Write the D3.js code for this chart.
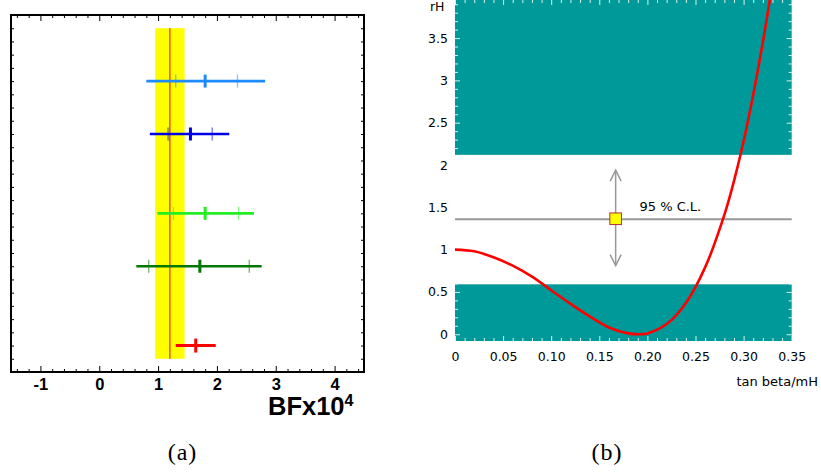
<!DOCTYPE html>
<html><head><meta charset="utf-8">
<script src="https://cdn.jsdelivr.net/npm/d3@7"></script>
<style>body{margin:0;background:#fff}svg{display:block}</style>
</head><body>
<svg id="c" width="821" height="475"></svg>
<script>
// ---------- Panel (a) data ----------
const rows      = [22, 18, 12, 8, 2];
const colorsA   = ["#1e8cff", "#0000e6", "#22ee22", "#007700", "#ff0000"];
const centralA  = [1.80, 1.55, 1.80, 1.71, 1.64];
const statLo    = [1.30, 1.17, 1.26, 0.84, null];
const statHi    = [2.35, 1.92, 2.37, 2.55, null];
const totLo     = [0.80, 0.86, 0.99, 0.63, 1.30];
const totHi     = [2.82, 2.21, 2.63, 2.76, 1.98];
const avgValue  = 1.20;
const avgBand   = [0.95, 1.45];
const avgRows   = [1, 26];
const ticksA    = [-1, 0, 1, 2, 3, 4];

// ---------- Panel (b) data ----------
const tanBeta = [0, 0.02, 0.04, 0.06, 0.08, 0.10, 0.12, 0.14, 0.16, 0.18, 0.19, 0.20, 0.22, 0.24, 0.26, 0.28, 0.29, 0.30, 0.31, 0.32, 0.33, 0.335];
const rH      = [1.00, 0.98, 0.91, 0.81, 0.68, 0.52, 0.36, 0.21, 0.08, 0.01, 0.00, 0.01, 0.12, 0.37, 0.79, 1.41, 1.81, 2.28, 2.83, 3.45, 4.15, 4.53];
const lowBand  = [-0.08, 0.59];
const highBand = [2.12, 3.95];
const clLevel  = 1.36;
const measX    = 0.167;
const arrowRange = [0.81, 1.94];
const xTicksB  = [0, 0.05, 0.10, 0.15, 0.20, 0.25, 0.30, 0.35];
const xLabelsB = ["0", "0.05", "0.10", "0.15", "0.20", "0.25", "0.30", "0.35"];
const yTicksB  = [0, 0.5, 1, 1.5, 2, 2.5, 3, 3.5];
const yLabelsB = ["0", "0.5", "1", "1.5", "2", "2.5", "3", "3.5"];

const svg = d3.select("#c");

// ================= Panel (a) =================
const xA = d3.scaleLinear().domain([-1.5, 4.5]).range([11, 364]);
const yA = d3.scaleLinear().domain([0, 27]).range([372, 15]);
const gA = svg.append("g");

gA.append("rect").attr("x", xA(avgBand[0])).attr("width", xA(avgBand[1]) - xA(avgBand[0]))
  .attr("y", yA(avgRows[1])).attr("height", yA(avgRows[0]) - yA(avgRows[1])).attr("fill", "#ffff00");
gA.append("line").attr("x1", xA(avgValue)).attr("x2", xA(avgValue))
  .attr("y1", yA(avgRows[1])).attr("y2", yA(avgRows[0])).attr("stroke", "#ff4a10").attr("stroke-width", 1.5);

rows.forEach((r, i) => {
  const y = yA(r), c = colorsA[i];
  gA.append("line").attr("x1", xA(totLo[i])).attr("x2", xA(totHi[i])).attr("y1", y).attr("y2", y)
    .attr("stroke", c).attr("stroke-width", i === 4 ? 3 : 2.6);
  [statLo[i], statHi[i]].forEach(v => {
    if (v == null) return;
    gA.append("line").attr("x1", xA(v)).attr("x2", xA(v)).attr("y1", y - 6.5).attr("y2", y + 6.5)
      .attr("stroke", c).attr("stroke-opacity", 0.55).attr("stroke-width", 1.3);
  });
  const h = i === 4 ? 7 : 6.5;
  gA.append("line").attr("x1", xA(centralA[i])).attr("x2", xA(centralA[i])).attr("y1", y - h).attr("y2", y + h)
    .attr("stroke", c).attr("stroke-width", 3);
});

const minorA = d3.range(-1.4, 4.5, 0.2).filter(v => Math.abs(v - Math.round(v)) > 1e-6);
const tickStyle = g => g.select(".domain").remove();
function blackAxis(axis, tr) {
  gA.append("g").attr("transform", tr).call(axis).call(tickStyle).selectAll("line").attr("stroke", "#000");
}
blackAxis(d3.axisTop(xA).tickValues(minorA).tickSize(3).tickFormat(""), "translate(0,372)");
blackAxis(d3.axisTop(xA).tickValues(ticksA).tickSize(6).tickFormat(""), "translate(0,372)");
blackAxis(d3.axisBottom(xA).tickValues(minorA).tickSize(3).tickFormat(""), "translate(0,15)");
blackAxis(d3.axisBottom(xA).tickValues(ticksA).tickSize(6).tickFormat(""), "translate(0,15)");
const yTicksA = d3.range(1, 27);
blackAxis(d3.axisRight(yA).tickValues(yTicksA).tickSize(3).tickFormat(""), "translate(11,0)");
blackAxis(d3.axisLeft(yA).tickValues(yTicksA).tickSize(3).tickFormat(""), "translate(364,0)");

const labA = gA.append("g").attr("transform", `translate(0,372)`)
  .call(d3.axisBottom(xA).tickValues(ticksA).tickSize(0).tickPadding(6).tickFormat(d => d))
  .call(tickStyle);
labA.selectAll("text").attr("font-family", "'Liberation Sans', Arial, sans-serif")
  .attr("font-weight", "bold").attr("font-size", 16.5).attr("fill", "#000");

gA.append("rect").attr("x", 11).attr("y", 15).attr("width", 353).attr("height", 357)
  .attr("fill", "none").attr("stroke", "#000").attr("stroke-width", 2);

const bf = gA.append("text").attr("x", 268).attr("y", 415)
  .attr("font-family", "'Liberation Sans', Arial, sans-serif").attr("font-weight", "bold")
  .attr("font-size", 25.5).attr("fill", "#000");
bf.append("tspan").text("BFx10");
bf.append("tspan").attr("font-size", 16).attr("dy", -9).text("4");

// ================= Panel (b) =================
const xB = d3.scaleLinear().domain([0, 0.35]).range([455, 791.7]);
const yB = d3.scaleLinear().domain([-0.08, 3.95]).range([341, 0]);
const gB = svg.append("g");
const sans = "'DejaVu Sans', Verdana, sans-serif";

gB.append("clipPath").attr("id", "clipB").append("rect")
  .attr("x", 455).attr("y", 0).attr("width", 336.7).attr("height", 341);

[lowBand, highBand].forEach(b => {
  gB.append("rect").attr("x", xB(0)).attr("width", xB(0.35) - xB(0))
    .attr("y", yB(b[1])).attr("height", yB(b[0]) - yB(b[1])).attr("fill", "#009999");
});

const minorYB = d3.range(0, 3.95, 0.1).filter(v => Math.abs(v * 2 - Math.round(v * 2)) > 1e-6);
const minorXB = d3.range(0.01, 0.35, 0.01).filter(v => Math.abs(v * 20 - Math.round(v * 20)) > 1e-6);
function whiteAxis(axis, tr) {
  gB.append("g").attr("transform", tr).call(axis).call(tickStyle)
    .selectAll("line").attr("stroke", "#ffffff").attr("stroke-opacity", 0.85);
}
whiteAxis(d3.axisRight(yB).tickValues(minorYB).tickSize(3).tickFormat(""), "translate(455,0)");
whiteAxis(d3.axisRight(yB).tickValues(yTicksB).tickSize(5).tickFormat(""), "translate(455,0)");
whiteAxis(d3.axisLeft(yB).tickValues(minorYB).tickSize(3).tickFormat(""), "translate(791.7,0)");
whiteAxis(d3.axisLeft(yB).tickValues(yTicksB).tickSize(5).tickFormat(""), "translate(791.7,0)");
whiteAxis(d3.axisTop(xB).tickValues(minorXB).tickSize(3).tickFormat(""), "translate(0,341)");
whiteAxis(d3.axisTop(xB).tickValues(xTicksB).tickSize(5).tickFormat(""), "translate(0,341)");
whiteAxis(d3.axisBottom(xB).tickValues(minorXB).tickSize(3).tickFormat(""), "translate(0,0)");
whiteAxis(d3.axisBottom(xB).tickValues(xTicksB).tickSize(5).tickFormat(""), "translate(0,0)");

gB.append("line").attr("x1", xB(0)).attr("x2", xB(0.35)).attr("y1", yB(clLevel)).attr("y2", yB(clLevel))
  .attr("stroke", "#999999").attr("stroke-width", 2);

const ax = xB(measX), aTop = yB(arrowRange[1]), aBot = yB(arrowRange[0]);
const ag = gB.append("g").attr("stroke", "#999999").attr("stroke-width", 1.5).attr("fill", "none");
ag.append("line").attr("x1", ax).attr("x2", ax).attr("y1", aTop).attr("y2", aBot);
ag.append("path").attr("d", `M${ax - 5.5},${aTop + 11}L${ax},${aTop}L${ax + 5.5},${aTop + 11}`);
ag.append("path").attr("d", `M${ax - 5.5},${aBot - 11}L${ax},${aBot}L${ax + 5.5},${aBot - 11}`);
gB.append("rect").attr("x", ax - 5.8).attr("y", yB(clLevel) - 6.2).attr("width", 11.6).attr("height", 11.6)
  .attr("fill", "#ffff00").attr("stroke", "#b03030").attr("stroke-width", 1);
gB.append("text").attr("x", 639.5).attr("y", 211).attr("font-family", sans).attr("font-size", 13)
  .attr("fill", "#000").text("95 % C.L.");

const line = d3.line().x(d => xB(d[0])).y(d => yB(d[1])).curve(d3.curveCatmullRom.alpha(0.5));
gB.append("path").datum(tanBeta.map((t, i) => [t, rH[i]])).attr("d", line)
  .attr("clip-path", "url(#clipB)").attr("fill", "none").attr("stroke", "#ff0000").attr("stroke-width", 2.6);

const xl = gB.append("g").attr("transform", "translate(0,341)")
  .call(d3.axisBottom(xB).tickValues(xTicksB).tickSize(0).tickPadding(11).tickFormat((d, i) => xLabelsB[i]))
  .call(tickStyle);
xl.selectAll("text").attr("font-family", sans).attr("font-size", 12.5).attr("fill", "#000");
const yl = gB.append("g").attr("transform", "translate(455,0)")
  .call(d3.axisLeft(yB).tickValues(yTicksB).tickSize(0).tickPadding(7).tickFormat((d, i) => yLabelsB[i]))
  .call(tickStyle);
yl.selectAll("text").attr("font-family", sans).attr("font-size", 12.5).attr("fill", "#000");

gB.append("text").attr("x", 818).attr("y", 386).attr("text-anchor", "end")
  .attr("font-family", sans).attr("font-size", 13).attr("fill", "#000").text("tan beta/mH");
gB.append("text").attr("x", 444.5).attr("y", 11).attr("text-anchor", "end")
  .attr("font-family", sans).attr("font-size", 12.5).attr("fill", "#000").text("rH");

const serif = "'Liberation Serif', 'Times New Roman', serif";
svg.append("text").attr("x", 182.5).attr("y", 460).attr("text-anchor", "middle")
  .attr("font-family", serif).attr("font-size", 24).attr("letter-spacing", 1).attr("fill", "#000").text("(a)");
svg.append("text").attr("x", 607).attr("y", 460).attr("text-anchor", "middle")
  .attr("font-family", serif).attr("font-size", 24).attr("letter-spacing", 1).attr("fill", "#000").text("(b)");
</script>
</body></html>
